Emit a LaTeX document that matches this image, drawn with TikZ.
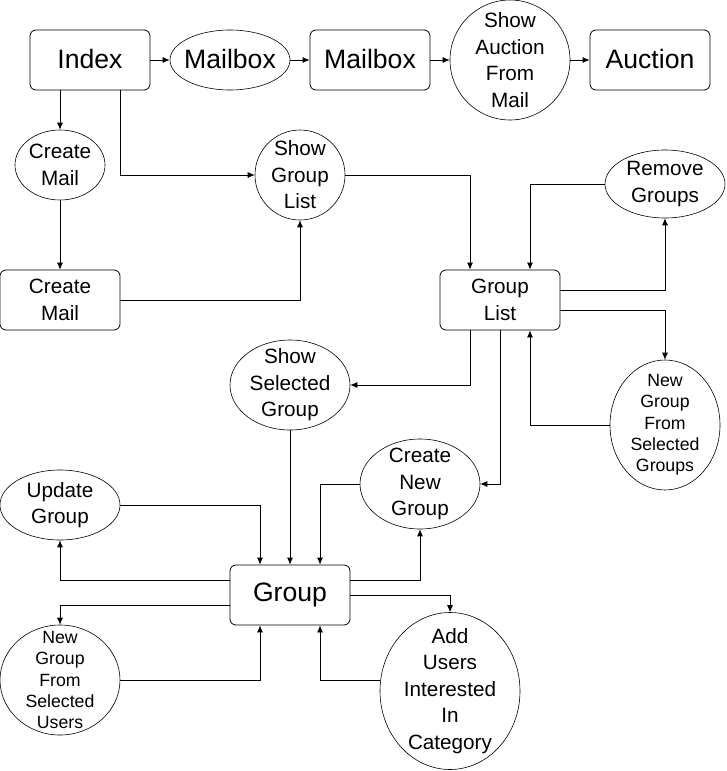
\documentclass[tikz,border=0pt]{standalone}
\usepackage{fontspec}
\setmainfont{Liberation Sans}
\usepackage{tikz}
\usetikzlibrary{shapes.geometric, arrows.meta}

\begin{document}
\begin{tikzpicture}[x=1pt, y=-1pt,
    box/.style={draw, line width=0.8pt, rounded corners=6pt, minimum width=120pt, minimum height=60pt, inner sep=0pt, align=center},
    oval/.style={draw, ellipse, line width=0.6pt, inner xsep=-5pt, inner ysep=-12pt, align=center},
    bigtext/.style={font=\fontsize{26.6}{32}\selectfont},
    midtext/.style={font=\fontsize{20.7}{26.5}\selectfont},
    smalltext/.style={font=\fontsize{17.7}{21.3}\selectfont},
    link/.style={-{Latex[length=7pt,width=6pt]}, line width=0.8pt}]
            \useasboundingbox (0,0) rectangle (726,771);

            % Nodes
            \node[box, bigtext] (Index) at (90,60) {\raisebox{2pt}{Index}};
            \node[oval, bigtext, minimum width=120pt, minimum height=60pt] (Mailbox) at (230,60) {\raisebox{2pt}{Mailbox}};
            \node[box, bigtext] (MailboxPage) at (370,60) {\raisebox{2pt}{Mailbox}};
            \node[oval, midtext, minimum width=120pt, minimum height=120pt] (ShowAuction) at (510,60) {Show\\Auction\\From\\Mail};
            \node[box, bigtext] (Auction) at (650,60) {\raisebox{2pt}{Auction}};
            \node[oval, midtext, minimum width=90pt, minimum height=70pt] (CreateMailOval) at (60,165) {Create\\Mail};
            \node[box, midtext] (CreateMail) at (60,300) {Create\\Mail};
            \node[oval, midtext, minimum width=90pt, minimum height=90pt] (ShowGroupList) at (300,175) {Show\\Group\\List};
            \node[box, midtext] (GroupList) at (500,300) {Group\\List};
            \node[oval, midtext, minimum width=120pt, minimum height=68pt] (RemoveGroups) at (665,184) {Remove\\Groups};
            \node[oval, smalltext, minimum width=110pt, minimum height=130pt] (NewFromGroups) at (665,425) {New\\Group\\From\\Selected\\Groups};
            \node[oval, midtext, minimum width=120pt, minimum height=90pt] (ShowSelected) at (290,385) {Show\\Selected\\Group};
            \node[oval, midtext, minimum width=120pt, minimum height=90pt] (CreateGroup) at (420,484) {Create\\New\\Group};
            \node[box, bigtext] (Group) at (290,595) {Group};
            \node[oval, midtext, minimum width=120pt, minimum height=70pt] (UpdateGroup) at (60,505) {Update\\Group};
            \node[oval, smalltext, minimum width=120pt, minimum height=110pt] (NewFromUsers) at (60,680) {New\\Group\\From\\Selected\\Users};
            \node[oval, midtext, minimum width=140pt, minimum height=157pt] (AddUsers) at (450,691) {Add\\Users\\Interested\\In\\Category};

            % Lines
            \draw[link] (Index) -- (Mailbox);
            \draw[link] (Mailbox) -- (MailboxPage);
            \draw[link] (MailboxPage) -- (ShowAuction);
            \draw[link] (ShowAuction) -- (Auction);
            \draw[link] (Index.south -| CreateMailOval) -- (CreateMailOval);
            \draw[link] (CreateMailOval) -- (CreateMail);
            \draw[link] ([xshift=30pt]Index.south) |- (ShowGroupList);
            \draw[link] (CreateMail) -| (ShowGroupList);
            \draw[link] (ShowGroupList) -| ([xshift=-30pt]GroupList.north);
            \draw[link] (RemoveGroups) -| ([xshift=30pt]GroupList.north);
            \draw[link] ([yshift=10pt]GroupList.east) -| (RemoveGroups);
            \draw[link] ([yshift=-10pt]GroupList.east) -| (NewFromGroups);
            \draw[link] (NewFromGroups) -| ([xshift=30pt]GroupList.south);
            \draw[link] ([xshift=-30pt]GroupList.south) |- (ShowSelected);
            \draw[link] (GroupList) |- (CreateGroup);
            \draw[link] (ShowSelected) -- (Group);
            \draw[link] (UpdateGroup) -| ([xshift=-30pt]Group.north);
            \draw[link] (CreateGroup) -| ([xshift=30pt]Group.north);
            \draw[link] ([yshift=15pt]Group.west) -| (UpdateGroup);
            \draw[link] ([yshift=-10pt]Group.west) -| (NewFromUsers);
            \draw[link] (NewFromUsers) -| ([xshift=-30pt]Group.south);
            \draw[link] ([yshift=15pt]Group.east) -| (CreateGroup);
            \draw[link] (Group) -| (AddUsers);
            \draw[link] ([yshift=11pt]AddUsers.west) -| ([xshift=30pt]Group.south);
        \end{tikzpicture}
\end{document}
